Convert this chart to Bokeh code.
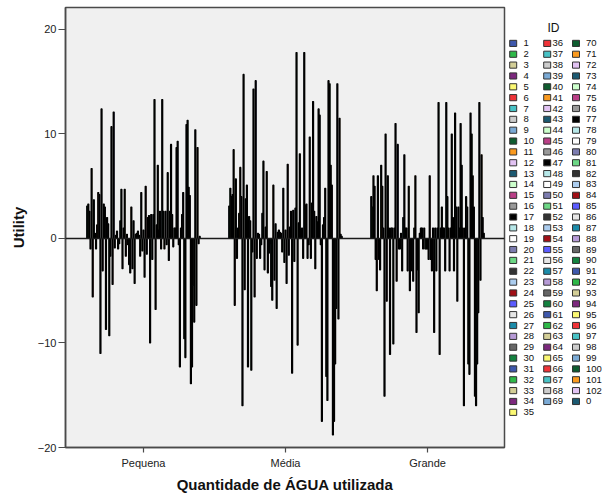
from bokeh.plotting import figure
from bokeh.models import ColumnDataSource, Range1d, FixedTicker, Span
from bokeh.layouts import row
from bokeh.embed import file_html
from bokeh.resources import INLINE
from bokeh.core.properties import value

# ---------------- data ----------------
categories = ["Pequena", "Média", "Grande"]
category_pos = [1, 2, 3]

ids = ["1", "2", "3", "4", "5", "6", "7", "8", "9", "10",
       "11", "12", "13", "14", "15", "16", "17", "18", "19", "20",
       "21", "22", "23", "24", "25", "26", "27", "28", "29", "30",
       "31", "32", "33", "34", "35", "36", "37", "38", "39", "40",
       "41", "42", "43", "44", "45", "46", "47", "48", "49", "50",
       "51", "52", "53", "54", "55", "56", "57", "58", "59", "60",
       "61", "62", "63", "64", "65", "66", "67", "68", "69", "70",
       "71", "72", "73", "74", "75", "76", "77", "78", "79", "80",
       "81", "82", "83", "84", "85", "86", "87", "88", "89", "90",
       "91", "92", "93", "94", "95", "96", "97", "98", "99", "100",
       "101", "102", "0"]

palette30 = ["#3E58AC", "#2EB848", "#D3CE97", "#7C287D", "#FBF873",
             "#EF3338", "#48C2C5", "#CCCCCC", "#7BAAD5", "#0E5C2F",
             "#FA9A1F", "#E2C3F3", "#1C5A72", "#CCFFCC", "#BA3F87",
             "#999999", "#000000", "#B6E7E8", "#FFFFFF", "#7C7CAF",
             "#6CD785", "#333333", "#ACCDEF", "#A10F16", "#5C5CFF",
             "#E6E6E6", "#1B8BA9", "#B69AD6", "#666666", "#13823F"]

pequena = [3.1, 3.3, 2.6, -1.0, 6.7, -5.6, 3.7, 0.5, -1.0, 1.3,
           4.4, 4.2, -11.0, 12.4, -3.1, 3.3, 3.0, -8.7, 2.0, 1.4,
           -9.3, -1.7, 10.7, -4.4, 12.1, -0.9, 0.3, 0.7, -1.0, -0.5,
           1.7, 4.7, -2.9, 1.0, 4.7, -1.7, 0.4, -0.6, -2.5, -3.3,
           3.0, -2.9, 1.7, -4.3, 0.4, 0.5, 0.7, 0.3, -1.7, 4.4,
           -1.2, 0.8, -3.7, 5.0, -1.5, 2.0, 2.2, -10.0, 2.3, -2.0,
           2.3, 13.3, -6.8, 1.3, 7.0, 0.8, 2.6, -1.0, 13.3, 2.6,
           -1.0, 2.6, -0.6, 6.3, -2.1, 2.6, 9.0, 2.3, -0.8, 1.0,
           1.0, 8.7, 9.3, -0.6, -12.3, 1.0, 2.3, 4.4, -9.6, -11.4,
           10.9, 11.3, 4.9, 4.1, -13.9, -12.3, -4.5, -8.0, 10.4, -6.4,
           8.7, -0.5, 0.2]

media = [3.1, 4.8, 4.0, 4.2, 8.5, -6.4, 5.7, -1.9, 1.0, 2.4,
         6.8, 4.0, -16.0, 15.7, -4.9, 3.8, 5.1, -12.3, 2.1, 1.7,
         -12.6, -1.3, 14.3, -5.6, 15.1, -1.9, 0.5, 0.4, -1.9, -0.6,
         2.4, 7.4, -3.0, 1.1, 6.4, -3.3, -1.4, -0.5, -4.6, -5.9,
         5.1, -4.0, 1.4, -6.7, 0.6, 0.8, 0.6, 0.5, -1.3, 4.8,
         -2.3, 0.8, -4.3, 7.1, -1.6, 1.1, 2.6, -12.9, 2.7, -2.2,
         2.9, 17.8, -10.2, 1.5, 8.1, 0.9, 1.0, -1.9, 17.8, 3.2,
         3.3, -1.9, -0.6, 9.7, -1.9, 3.4, 13.1, 2.6, -2.9, 2.1,
         1.6, 12.4, 11.8, -0.6, -17.5, 1.3, 2.0, 4.8, -13.2, -15.5,
         15.1, 14.8, 7.0, 5.1, -18.8, -17.5, -12.0, -6.7, 14.8, -7.7,
         11.5, 0.4, 0.2]

grande = [4.0, 3.0, 6.0, 5.0, -2.0, -5.0, 6.0, -2.0, -3.0, 7.0,
          5.0, 1.0, -15.1, 10.0, -6.0, 6.0, 1.0, -11.1, 1.0, 1.0,
          -10.1, 1.0, 11.0, -4.1, 9.0, -1.0, -1.0, 0.5, -3.1, 2.0,
          8.0, 1.0, 1.0, -3.1, 5.0, -5.0, -0.5, -3.1, -4.1, 1.0,
          6.0, -9.0, -3.0, -7.1, 0.5, 1.0, 1.0, -1.0, 1.0, -1.0,
          -1.0, -1.0, -2.0, 6.0, -2.0, -3.1, 1.0, -9.0, 1.0, -3.1,
          1.0, 13.0, -11.1, 1.0, 3.0, 1.0, 1.0, -3.1, 13.0, 4.0,
          1.0, -3.1, 1.0, 10.0, 2.0, -3.1, 12.0, 3.0, -6.0, 3.0,
          1.0, 11.0, 7.0, 1.0, -16.0, 1.0, 4.0, 3.0, -12.0, -13.0,
          12.0, 10.0, 6.0, 3.0, -15.1, -16.0, -12.0, -7.1, 13.0, -4.0,
          8.0, 2.0, 0.5]

series = [pequena, media, grande]

# ---------------- build bar table ----------------
n = len(ids)
cluster_width = 0.8
slot = cluster_width / n
xs, tops, cols = [], [], []
for pos, vals in zip(category_pos, series):
    for k, v in enumerate(vals):
        xs.append(pos + (k - (n - 1) / 2) * slot)
        tops.append(v)
        cols.append(palette30[k % len(palette30)])
src = ColumnDataSource(dict(x=xs, top=tops, color=cols))

FONT = "Liberation Sans"

p = figure(width=506, height=500, x_range=Range1d(0.451, 3.542),
           y_range=Range1d(-20, 22.1), output_backend="svg",
           toolbar_location=None, min_border_left=65, min_border_right=2,
           min_border_top=7, min_border_bottom=53)
p.background_fill_color = "#F0F0F0"
p.border_fill_color = "white"
p.outline_line_color = "#4A4A4A"
p.outline_line_width = 1.5
p.xgrid.visible = False
p.ygrid.visible = False

p.vbar(x="x", top="top", bottom=0, width=slot, source=src,
       fill_color="color", line_color="#000000", line_width=1.1)

p.add_layout(Span(location=0, dimension="width", line_color="#1A1A1A",
                  line_width=1.5))

p.xaxis.ticker = FixedTicker(ticks=category_pos)
p.xaxis.major_label_overrides = {pos: c for pos, c in zip(category_pos, categories)}
p.yaxis.ticker = FixedTicker(ticks=[-20, -10, 0, 10, 20])
for ax in (p.xaxis, p.yaxis):
    ax.minor_tick_line_color = None
    ax.major_tick_in = 0
    ax.major_tick_line_color = "#4A4A4A"
    ax.major_tick_line_width = 1.2
    ax.axis_line_color = "#4A4A4A"
    ax.axis_line_width = 1.5
    ax.major_label_text_font = FONT
    ax.major_label_text_font_size = "11px"
    ax.major_label_text_color = "#222222"
    ax.axis_label_text_font = FONT
    ax.axis_label_text_font_style = "bold"
    ax.axis_label_text_font_size = "15px"
    ax.axis_label_text_color = "#111111"
p.xaxis.major_tick_out = 5
p.yaxis.major_tick_out = 7
p.xaxis.major_label_standoff = 4
p.yaxis.major_label_standoff = 2
p.xaxis.axis_label = "Quantidade de ÁGUA utilizada"
p.yaxis.axis_label = "Utility"
p.xaxis.axis_label_standoff = 4
p.yaxis.axis_label_standoff = 8

# ---------------- legend panel ----------------
lf = figure(width=102, height=500, x_range=Range1d(506, 608),
            y_range=Range1d(500, 0), output_backend="svg",
            toolbar_location=None, min_border=0)
lf.axis.visible = False
lf.xgrid.visible = False
lf.ygrid.visible = False
lf.outline_line_color = None
lf.background_fill_color = "white"
lf.border_fill_color = "white"

col_rows = [35, 34, 34]
glyph_cx = [512.7, 546.7, 575.5]
label_x = [523.0, 552.0, 585.5]
row0_y = 40.8
row_h = 12.33

gx, gy, lx, lcol = [], [], [], []
k = 0
for c, nr in enumerate(col_rows):
    for r in range(nr):
        if k >= n:
            break
        gx.append(glyph_cx[c])
        gy.append(row0_y + r * row_h)
        lx.append(label_x[c])
        lcol.append(palette30[k % len(palette30)])
        k += 1

lsrc = ColumnDataSource(dict(gx=gx, gy=gy, lx=lx, color=lcol, label=ids))
lf.rect(x="gx", y="gy", width=7, height=7, source=lsrc,
        fill_color="color", line_color="#333333", line_width=1)
lf.text(x="lx", y="gy", text="label", source=lsrc, text_baseline="middle",
        text_align="left", text_font=value(FONT), text_font_size="9.5px",
        text_color="#111111")
lf.text(x=[553], y=[23], text=["ID"], text_baseline="middle",
        text_align="center", text_font=value(FONT), text_font_size="12px",
        text_color="#111111")

layout = row(p, lf, spacing=0)
open("out.html", "w").write(file_html(layout, INLINE))
